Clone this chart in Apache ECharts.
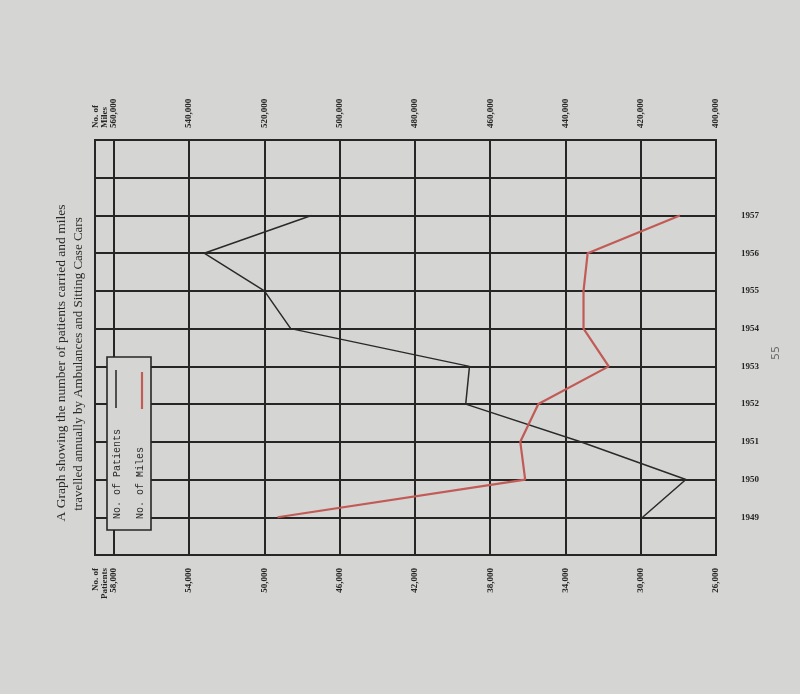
<!DOCTYPE html>
<html>
<head>
<meta charset="utf-8">
<script src="https://cdn.jsdelivr.net/npm/echarts@6/dist/echarts.min.js"></script>
<style>
  html, body { margin: 0; padding: 0; background: #d5d5d3; }
  #chart { width: 800px; height: 694px; }
</style>
</head>
<body>
<div id="chart"></div>
<script>
// values (chart is printed sideways)
const years = [1949, 1950, 1951, 1952, 1953, 1954, 1955, 1956, 1957];
const patients = [29900, 27600, 33200, 39300, 39100, 48600, 50000, 53200, 47500];
const miles = [516500, 450700, 452000, 447200, 428500, 435200, 435200, 434100, 409600];

const titleLines = [
    'A Graph showing the number of patients carried and miles',
    'travelled annually by Ambulances and Sitting Case Cars'
];

const ink = '#262626';
const serif = '"Liberation Serif", "DejaVu Serif", serif';
const mono = '"Liberation Mono", "DejaVu Sans Mono", monospace';

function fmt(v) {
    return v.toLocaleString('en-US');
}

let chart = echarts.init(document.getElementById('chart'));

chart.setOption({
    backgroundColor: '#d5d5d3',
    animation: false,
    grid: {
        left: 95, right: 84, top: 140, bottom: 139,
        show: true,
        borderColor: ink,
        borderWidth: 2,
        backgroundColor: 'transparent'
    },
    xAxis: [
        {
            // miles, along the top
            type: 'value',
            position: 'top',
            inverse: true,
            min: 400000, max: 565000, interval: 20000,
            axisLine: { show: false },
            axisTick: { show: false },
            splitLine: { show: true, lineStyle: { color: ink, width: 2 } },
            axisLabel: {
                rotate: -90,
                margin: 12,
                showMaxLabel: false,
                fontFamily: serif, fontWeight: 'bold', fontSize: 9,
                lineHeight: 9, color: ink,
                formatter: v => v === 560000 ? 'No. of\nMiles\n' + fmt(v) + '\n \n ' : fmt(v)
            }
        },
        {
            // patients, along the bottom
            type: 'value',
            position: 'bottom',
            inverse: true,
            min: 26000, max: 59000, interval: 4000,
            axisLine: { show: false },
            axisTick: { show: false },
            splitLine: { show: false },
            axisLabel: {
                rotate: 90,
                margin: 13,
                showMaxLabel: false,
                fontFamily: serif, fontWeight: 'bold', fontSize: 9,
                lineHeight: 9, color: ink,
                formatter: v => v === 58000 ? 'No. of\nPatients\n' + fmt(v) + '\n \n ' : fmt(v)
            }
        }
    ],
    yAxis: {
        type: 'value',
        position: 'right',
        min: 1948, max: 1959, interval: 1,
        axisLine: { show: false },
        axisTick: { show: false },
        splitLine: { show: true, lineStyle: { color: ink, width: 2 } },
        axisLabel: {
            margin: 25,
            fontFamily: serif, fontWeight: 'bold', fontSize: 9, color: ink,
            formatter: v => (v >= years[0] && v <= years[years.length - 1]) ? String(v) : ''
        }
    },
    series: [
        {
            name: 'No. of Patients',
            type: 'line',
            xAxisIndex: 1,
            data: years.map((y, i) => [patients[i], y]),
            showSymbol: false,
            lineStyle: { color: '#2a2a2a', width: 1.5 }
        },
        {
            name: 'No. of Miles',
            type: 'line',
            xAxisIndex: 0,
            data: years.map((y, i) => [miles[i], y]),
            showSymbol: false,
            lineStyle: { color: '#c25a55', width: 2.2 }
        }
    ],
    graphic: [
        {
            type: 'text', x: 61, y: 363, rotation: Math.PI / 2,
            style: {
                text: titleLines[0], align: 'center', verticalAlign: 'middle',
                fontFamily: serif, fontSize: 13.5, fill: '#2a2a2a'
            }
        },
        {
            type: 'text', x: 79, y: 364, rotation: Math.PI / 2,
            style: {
                text: titleLines[1], align: 'center', verticalAlign: 'middle',
                fontFamily: serif, fontSize: 13, fill: '#2a2a2a'
            }
        },
        // legend box
        {
            type: 'rect', z: 10,
            shape: { x: 107, y: 357, width: 44, height: 173 },
            style: { fill: '#d5d5d3', stroke: ink, lineWidth: 1.6 }
        },
        {
            type: 'text', z: 11, x: 117, y: 519, rotation: Math.PI / 2,
            style: {
                text: 'No. of Patients', align: 'left', verticalAlign: 'middle',
                fontFamily: mono, fontSize: 10, fill: '#2e2e2e'
            }
        },
        {
            type: 'text', z: 11, x: 140, y: 519, rotation: Math.PI / 2,
            style: {
                text: 'No. of Miles', align: 'left', verticalAlign: 'middle',
                fontFamily: mono, fontSize: 10, fill: '#2e2e2e'
            }
        },
        {
            type: 'line', z: 11,
            shape: { x1: 116, y1: 370, x2: 116, y2: 408 },
            style: { stroke: '#2e2e2e', lineWidth: 1.6 }
        },
        {
            type: 'line', z: 11,
            shape: { x1: 142, y1: 372, x2: 142, y2: 409 },
            style: { stroke: '#c25a55', lineWidth: 2.2 }
        },
        // page number
        {
            type: 'text', x: 776, y: 353, rotation: Math.PI / 2,
            style: {
                text: '55', align: 'center', verticalAlign: 'middle',
                fontFamily: '"DejaVu Sans", sans-serif', fontSize: 11, fill: '#6a6a6a'
            }
        }
    ]
});
</script>
</body>
</html>
